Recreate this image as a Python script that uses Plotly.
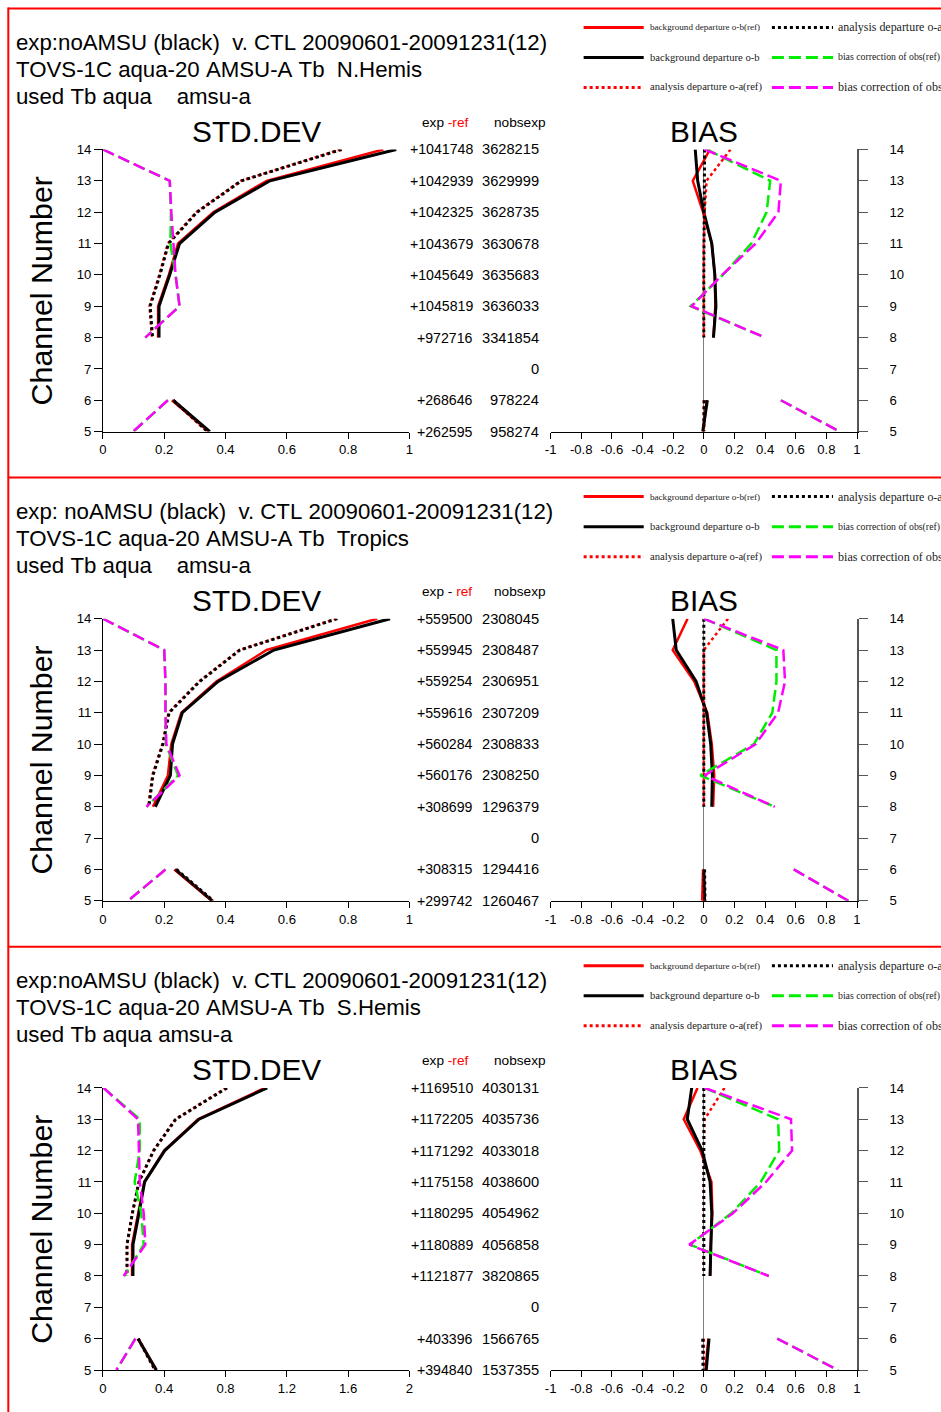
import plotly.graph_objects as go

# Figure size and the measured mapping from reference pixel positions to figure pixels
W, H = 946, 1422
SX, BX = 0.988, 6.2
SY, BY = 0.989, 6.6
FS = 1.0 / SY
PANEL_STEP = 469

# ---------------- data ----------------
channels = [14, 13, 12, 11, 10, 9, 8, 7, 6, 5]
channel_ticks = [5, 6, 7, 8, 9, 10, 11, 12, 13, 14]

std_ticks_a = [0, 0.2, 0.4, 0.6, 0.8, 1]
std_ticktext_a = ["0", "0.2", "0.4", "0.6", "0.8", "1"]
std_ticks_b = [0, 0.4, 0.8, 1.2, 1.6, 2]
std_ticktext_b = ["0", "0.4", "0.8", "1.2", "1.6", "2"]
bias_ticks = [-1, -0.8, -0.6, -0.4, -0.2, 0, 0.2, 0.4, 0.6, 0.8, 1]
bias_ticktext = ["-1", "-0.8", "-0.6", "-0.4", "-0.2", "0", "0.2", "0.4", "0.6", "0.8", "1"]

# N.Hemis  STD.DEV
nh_std_obg_ref = [0.915, 0.534, 0.360, 0.245, 0.215, 0.180, 0.180, None, 0.225, 0.345]
nh_std_obg_exp = [0.957, 0.545, 0.366, 0.250, 0.218, 0.183, 0.183, None, 0.229, 0.349]
nh_std_oan_ref = [0.775, 0.450, 0.305, 0.212, 0.184, 0.152, 0.160, None, 0.228, 0.340]
nh_std_oan_exp = [0.779, 0.452, 0.307, 0.214, 0.186, 0.154, 0.162, None, 0.230, 0.342]
nh_std_bc_ref = [0.0, 0.218, 0.222, 0.220, 0.237, 0.250, 0.138, None, 0.212, 0.100]
nh_std_bc_exp = [0.0, 0.218, 0.223, 0.229, 0.237, 0.250, 0.138, None, 0.212, 0.098]
# N.Hemis  BIAS
nh_bias_obg_ref = [0.040, -0.072, -0.005, 0.052, 0.072, 0.075, 0.063, None, 0.020, -0.005]
nh_bias_obg_exp = [-0.056, -0.040, 0.000, 0.052, 0.072, 0.079, 0.063, None, 0.023, -0.007]
nh_bias_oan_ref = [0.174, 0.018, 0.005, 0.0, 0.0, 0.0, 0.0, None, 0.0, 0.0]
nh_bias_oan_exp = [0.005, 0.003, 0.002, 0.0, 0.0, 0.0, 0.0, None, 0.003, 0.0]
nh_bias_bc_ref = [0.020, 0.433, 0.410, 0.310, 0.125, -0.086, 0.400, None, 0.503, 0.887]
nh_bias_bc_exp = [0.005, 0.503, 0.487, 0.339, 0.120, -0.079, 0.400, None, 0.503, 0.887]
nh_exp_ref = ["+1041748", "+1042939", "+1042325", "+1043679", "+1045649", "+1045819", "+972716", "", "+268646", "+262595"]
nh_nobs = ["3628215", "3629999", "3628735", "3630678", "3635683", "3636033", "3341854", "0", "978224", "958274"]

# Tropics  STD.DEV
tr_std_obg_ref = [0.895, 0.534, 0.370, 0.256, 0.223, 0.212, 0.163, None, 0.233, 0.355]
tr_std_obg_exp = [0.937, 0.558, 0.376, 0.259, 0.227, 0.220, 0.171, None, 0.236, 0.357]
tr_std_oan_ref = [0.762, 0.445, 0.314, 0.214, 0.194, 0.161, 0.148, None, 0.238, 0.358]
tr_std_oan_exp = [0.765, 0.447, 0.316, 0.216, 0.196, 0.163, 0.150, None, 0.240, 0.360]
tr_std_bc_ref = [0.0, 0.200, 0.204, 0.204, 0.205, 0.245, 0.142, None, 0.204, 0.082]
tr_std_bc_exp = [0.0, 0.200, 0.204, 0.204, 0.207, 0.250, 0.142, None, 0.204, 0.082]
# Tropics  BIAS
tr_bias_obg_ref = [-0.106, -0.203, -0.063, 0.023, 0.052, 0.068, 0.061, None, -0.005, -0.011]
tr_bias_obg_exp = [-0.203, -0.180, -0.050, 0.018, 0.045, 0.056, 0.052, None, 0.000, 0.005]
tr_bias_oan_ref = [0.158, 0.000, 0.0, 0.0, 0.0, 0.0, 0.0, None, 0.0, 0.0]
tr_bias_oan_exp = [0.0, 0.0, 0.0, 0.0, 0.0, 0.0, 0.0, None, 0.005, 0.008]
tr_bias_bc_ref = [0.0, 0.474, 0.474, 0.447, 0.327, -0.023, 0.463, None, 0.587, 0.944]
tr_bias_bc_exp = [0.0, 0.519, 0.530, 0.485, 0.339, 0.005, 0.463, None, 0.587, 0.944]
tr_exp_ref = ["+559500", "+559945", "+559254", "+559616", "+560284", "+560176", "+308699", "", "+308315", "+299742"]
tr_nobs = ["2308045", "2308487", "2306951", "2307209", "2308833", "2308250", "1296379", "0", "1294416", "1260467"]

# S.Hemis  STD.DEV
sh_std_obg_ref = [1.057, 0.620, 0.400, 0.270, 0.230, 0.190, 0.190, None, 0.230, 0.345]
sh_std_obg_exp = [1.072, 0.627, 0.403, 0.272, 0.235, 0.196, 0.196, None, 0.229, 0.349]
sh_std_oan_ref = [0.805, 0.472, 0.330, 0.235, 0.192, 0.157, 0.157, None, 0.232, 0.342]
sh_std_oan_exp = [0.810, 0.475, 0.331, 0.235, 0.192, 0.157, 0.157, None, 0.230, 0.340]
sh_std_bc_ref = [0.004, 0.240, 0.240, 0.207, 0.250, 0.266, 0.140, None, 0.210, 0.090]
sh_std_bc_exp = [0.004, 0.229, 0.235, 0.240, 0.266, 0.277, 0.135, None, 0.213, 0.087]
# S.Hemis  BIAS
sh_bias_obg_ref = [-0.041, -0.131, -0.023, 0.050, 0.056, 0.045, 0.041, None, 0.030, 0.010]
sh_bias_obg_exp = [-0.079, -0.108, -0.011, 0.041, 0.052, 0.045, 0.041, None, 0.034, 0.016]
sh_bias_oan_ref = [0.135, 0.005, 0.0, 0.0, 0.0, 0.0, 0.0, None, 0.0, 0.0]
sh_bias_oan_exp = [0.0, 0.0, 0.0, 0.0, 0.0, 0.0, 0.0, None, -0.007, -0.005]
sh_bias_bc_ref = [0.005, 0.485, 0.492, 0.372, 0.180, -0.090, 0.424, None, 0.479, 0.876]
sh_bias_bc_exp = [0.005, 0.569, 0.576, 0.406, 0.190, -0.095, 0.424, None, 0.479, 0.876]
sh_exp_ref = ["+1169510", "+1172205", "+1171292", "+1175158", "+1180295", "+1180889", "+1121877", "", "+403396", "+394840"]
sh_nobs = ["4030131", "4035736", "4033018", "4038600", "4054962", "4056858", "3820865", "0", "1566765", "1537355"]

nh_header = ["exp:noAMSU (black)  v. CTL 20090601-20091231(12)",
             "TOVS-1C aqua-20 AMSU-A Tb  N.Hemis",
             "used Tb aqua    amsu-a"]
tr_header = ["exp: noAMSU (black)  v. CTL 20090601-20091231(12)",
             "TOVS-1C aqua-20 AMSU-A Tb  Tropics",
             "used Tb aqua    amsu-a"]
sh_header = ["exp:noAMSU (black)  v. CTL 20090601-20091231(12)",
             "TOVS-1C aqua-20 AMSU-A Tb  S.Hemis",
             "used Tb aqua amsu-a"]

series_names = ["background departure o-b(ref)", "background departure o-b",
                "analysis departure o-a(ref)", "analysis departure o-a",
                "bias correction of obs(ref)", "bias correction of obs"]

# ---------------- styles ----------------
SANS = "Liberation Sans, Arial, sans-serif"
SERIF = "Liberation Serif, Times New Roman, serif"
styles = [
    dict(color="#ff0000", width=2.5, dash="solid"),
    dict(color="#000000", width=3, dash="solid"),
    dict(color="#ff0000", width=2.5, dash="dot"),
    dict(color="#000000", width=3, dash="dot"),
    dict(color="#00ee00", width=2.5, dash="12px,5px"),
    dict(color="#ff00ff", width=2.5, dash="12px,5px"),
]


def px(x):
    return ((x - BX) / SX) / W


def py(y):
    return 1 - ((y - BY) / SY) / H


def f(s):
    return s * FS


def sp(s):
    return s.replace(" ", "\u00a0")


fig = go.Figure()
layout = dict(width=W, height=H, margin=dict(l=0, r=0, t=0, b=0),
              paper_bgcolor="white", plot_bgcolor="white", showlegend=False)
annotations = []
shapes = []

panels = [
    dict(std=[nh_std_obg_ref, nh_std_obg_exp, nh_std_oan_ref, nh_std_oan_exp, nh_std_bc_ref, nh_std_bc_exp],
         bias=[nh_bias_obg_ref, nh_bias_obg_exp, nh_bias_oan_ref, nh_bias_oan_exp, nh_bias_bc_ref, nh_bias_bc_exp],
         rng=[0, 1], tv=std_ticks_a, tt=std_ticktext_a, expref=nh_exp_ref, nobs=nh_nobs,
         header=nh_header, eref="exp <span style='color:#ff0000'>-ref</span>"),
    dict(std=[tr_std_obg_ref, tr_std_obg_exp, tr_std_oan_ref, tr_std_oan_exp, tr_std_bc_ref, tr_std_bc_exp],
         bias=[tr_bias_obg_ref, tr_bias_obg_exp, tr_bias_oan_ref, tr_bias_oan_exp, tr_bias_bc_ref, tr_bias_bc_exp],
         rng=[0, 1], tv=std_ticks_a, tt=std_ticktext_a, expref=tr_exp_ref, nobs=tr_nobs,
         header=tr_header, eref="exp - <span style='color:#ff0000'>ref</span>"),
    dict(std=[sh_std_obg_ref, sh_std_obg_exp, sh_std_oan_ref, sh_std_oan_exp, sh_std_bc_ref, sh_std_bc_exp],
         bias=[sh_bias_obg_ref, sh_bias_obg_exp, sh_bias_oan_ref, sh_bias_oan_exp, sh_bias_bc_ref, sh_bias_bc_exp],
         rng=[0, 2], tv=std_ticks_b, tt=std_ticktext_b, expref=sh_exp_ref, nobs=sh_nobs,
         header=sh_header, eref="exp <span style='color:#ff0000'>-ref</span>"),
]

for k, p in enumerate(panels):
    off = PANEL_STEP * k
    ia, ib = 2 * k + 1, 2 * k + 2
    xa, ya = f"x{ia}", f"y{ia}"
    xb, yb = f"x{ib}", f"y{ib}"
    ydom = [py(431 + off), py(149 + off)]

    for vals, st, nm in zip(p["std"], styles, series_names):
        fig.add_trace(go.Scatter(x=vals, y=channels, mode="lines", name=nm, line=st,
                                 connectgaps=False, xaxis=xa, yaxis=ya, hoverinfo="skip"))
    for vals, st, nm in zip(p["bias"], styles, series_names):
        fig.add_trace(go.Scatter(x=vals, y=channels, mode="lines", name=nm, line=st,
                                 connectgaps=False, xaxis=xb, yaxis=yb, hoverinfo="skip"))

    tickfont = dict(family=SANS, size=f(13), color="#000000")
    layout[f"xaxis{ia}"] = dict(domain=[px(103), px(409)], range=p["rng"], anchor=ya,
                                tickvals=p["tv"], ticktext=p["tt"], ticks="outside", ticklen=6,
                                tickcolor="#000", showline=True, linecolor="#000", linewidth=1,
                                showgrid=False, zeroline=False, tickfont=tickfont)
    layout[f"yaxis{ia}"] = dict(domain=ydom, range=[5, 14], anchor=xa,
                                tickvals=channel_ticks, ticks="outside", ticklen=8,
                                tickcolor="#000", showline=True, linecolor="#000", linewidth=1,
                                showgrid=False, zeroline=False, tickfont=tickfont)
    layout[f"xaxis{ib}"] = dict(domain=[px(550), px(856)], range=[-1, 1], anchor=yb,
                                tickvals=bias_ticks, ticktext=bias_ticktext, ticks="outside", ticklen=6,
                                tickcolor="#000", showline=True, linecolor="#000", linewidth=1,
                                showgrid=False, zeroline=True, zerolinecolor="#808080",
                                zerolinewidth=1, tickfont=tickfont)
    layout[f"yaxis{ib}"] = dict(domain=ydom, range=[5, 14], anchor=xb, side="right",
                                tickvals=channel_ticks, ticks="outside", ticklen=9,
                                tickcolor="#555", showline=True, linecolor="#555", linewidth=1.5,
                                showgrid=False, zeroline=False, tickfont=tickfont,
                                ticklabelstandoff=19)

    # titles
    annotations.append(dict(text="STD.DEV", x=px(256), y=py(131 + off), xref="paper", yref="paper",
                            showarrow=False, xanchor="center", yanchor="middle",
                            font=dict(family=SANS, size=f(29.5), color="#000")))
    annotations.append(dict(text="BIAS", x=px(703), y=py(131 + off), xref="paper", yref="paper",
                            showarrow=False, xanchor="center", yanchor="middle",
                            font=dict(family=SANS, size=f(29.5), color="#000")))
    annotations.append(dict(text="Channel Number", x=px(42), y=py(290 + off), xref="paper",
                            yref="paper", showarrow=False, textangle=-90, xanchor="center",
                            yanchor="middle", font=dict(family=SANS, size=f(30), color="#000")))
    # header lines
    for j, line in enumerate(p["header"]):
        annotations.append(dict(text=sp(line), x=px(14), y=py(42 + 27 * j + off), xref="paper",
                                yref="paper", showarrow=False, xanchor="left", yanchor="middle",
                                font=dict(family=SANS, size=f(22), color="#000")))
    # column headers
    annotations.append(dict(text=p["eref"], x=px(420), y=py(122 + off), xref="paper", yref="paper",
                            showarrow=False, xanchor="left", yanchor="middle",
                            font=dict(family=SANS, size=f(13.5), color="#000")))
    annotations.append(dict(text="nobsexp", x=px(491), y=py(122 + off), xref="paper", yref="paper",
                            showarrow=False, xanchor="left", yanchor="middle",
                            font=dict(family=SANS, size=f(13.5), color="#000")))
    for ch, er, nb in zip(channels, p["expref"], p["nobs"]):
        if er:
            annotations.append(dict(text=er, x=px(475), y=ch, xref="paper", yref=ya,
                                    showarrow=False, xanchor="right", yanchor="middle",
                                    font=dict(family=SANS, size=f(14), color="#000")))
        annotations.append(dict(text=nb, x=px(540), y=ch, xref="paper", yref=ya,
                                showarrow=False, xanchor="right", yanchor="middle",
                                font=dict(family=SANS, size=f(14.5), color="#000")))

    # legend
    rows = [27, 57, 87]
    leg_left = [(0, 9), (1, 10.5), (2, 10.5)]
    leg_right = [(3, 11.8), (4, 9.7), (5, 12)]
    for r, (si, fs) in zip(rows, leg_left):
        st = styles[si]
        shapes.append(dict(type="line", xref="paper", yref="paper", x0=px(583), x1=px(643),
                           y0=py(r + off), y1=py(r + off),
                           line=dict(color=st["color"], width=3, dash=st["dash"])))
        annotations.append(dict(text=series_names[si], x=px(647), y=py(r + off), xref="paper",
                                yref="paper", showarrow=False, xanchor="left", yanchor="middle",
                                font=dict(family=SERIF, size=f(fs), color="#222")))
    for r, (si, fs) in zip(rows, leg_right):
        st = styles[si]
        shapes.append(dict(type="line", xref="paper", yref="paper", x0=px(771), x1=px(832),
                           y0=py(r + off), y1=py(r + off),
                           line=dict(color=st["color"], width=3, dash=st["dash"])))
        annotations.append(dict(text=series_names[si], x=px(835), y=py(r + off), xref="paper",
                                yref="paper", showarrow=False, xanchor="left", yanchor="middle",
                                font=dict(family=SERIF, size=f(fs), color="#222")))

# red frame
for yy in [8, 477, 946]:
    shapes.append(dict(type="line", xref="paper", yref="paper", x0=px(8), x1=1.0,
                       y0=py(yy), y1=py(yy), line=dict(color="#ff0000", width=2)))
shapes.append(dict(type="line", xref="paper", yref="paper", x0=px(8.5), x1=px(8.5),
                   y0=py(7), y1=0.0, line=dict(color="#ff0000", width=2)))

layout["annotations"] = annotations
layout["shapes"] = shapes
fig.update_layout(**layout)
fig.write_html("out.html")
